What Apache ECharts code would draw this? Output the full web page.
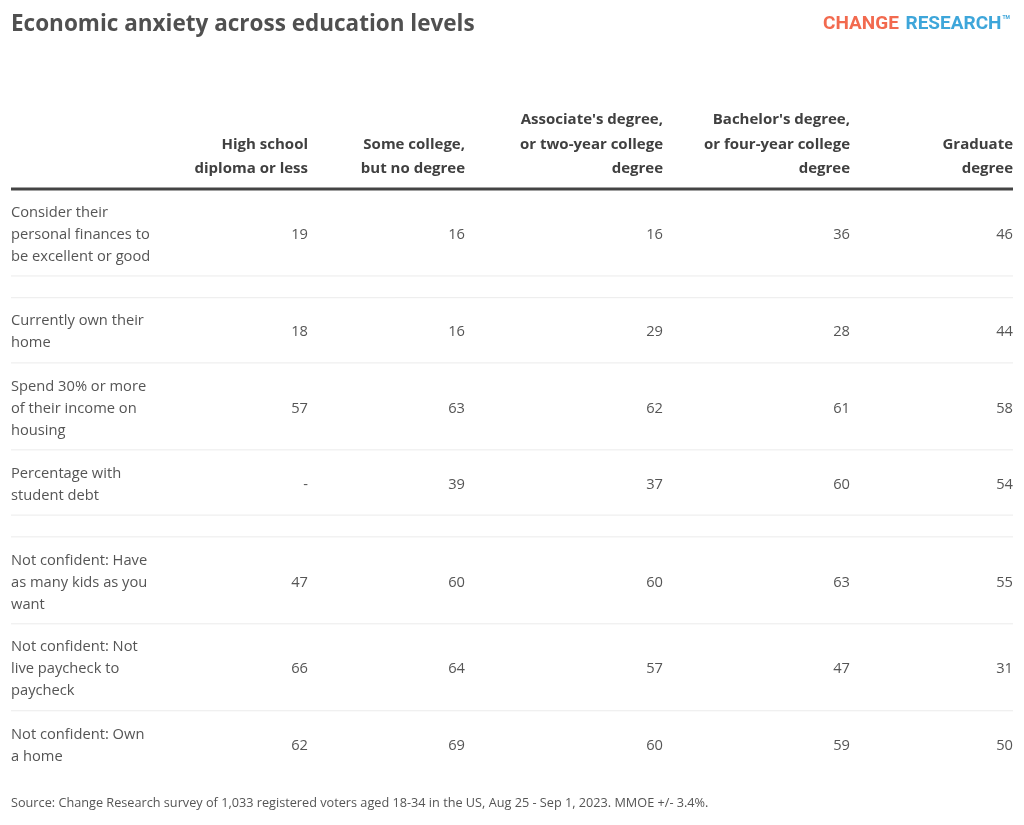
<!DOCTYPE html>
<html lang="en">
<head>
<meta charset="UTF-8">
<title>Economic anxiety across education levels</title>
<style>
  body { margin: 0; padding: 0; background: #fff; }
  #main { width: 1024px; height: 825px; }
</style>
</head>
<body>
<div id="main"></div>
<script src="https://cdn.jsdelivr.net/npm/echarts@6/dist/echarts.min.js"></script>
<script>
// column headers
var columns = [
  'High school\ndiploma or less',
  'Some college,\nbut no degree',
  "Associate's degree,\nor two-year college\ndegree",
  "Bachelor's degree,\nor four-year college\ndegree",
  'Graduate\ndegree'
];
// row questions
var rowLabels = [
  'Consider their\npersonal finances to\nbe excellent or good',
  'Currently own their\nhome',
  'Spend 30% or more\nof their income on\nhousing',
  'Percentage with\nstudent debt',
  'Not confident: Have\nas many kids as you\nwant',
  'Not confident: Not\nlive paycheck to\npaycheck',
  'Not confident: Own\na home'
];
// values per column (null = no data)
var highSchool  = [19, 18, 57, null, 47, 66, 62];
var someCollege = [16, 16, 63, 39, 60, 64, 69];
var associate   = [16, 29, 62, 37, 60, 57, 60];
var bachelor    = [36, 28, 61, 60, 63, 47, 59];
var graduate    = [46, 44, 58, 54, 55, 31, 50];
var values = [highSchool, someCollege, associate, bachelor, graduate];

// layout: right edge of each column (table px), empty spacer row after these rows
var colRight = [297, 454, 652, 839, 1002];
var gapAfter = [0, 3];
var tableWidth = 1002;

var FONT = '"Open Sans", Roboto, sans-serif';

// row positions in "line units": a row with n lines takes n+1 units
var rowCenter = [];
var separators = [];
var pos = 0;
rowLabels.forEach(function (lab, i) {
  var n = lab.split('\n').length;
  rowCenter.push(pos + (n + 1) / 2);
  pos += n + 1;
  if (i < rowLabels.length - 1) separators.push(pos);
  if (gapAfter.indexOf(i) >= 0) {
    pos += 1;
    separators.push(pos);
  }
});
var totalUnits = pos;

var cellData = [];
values.forEach(function (col, c) {
  col.forEach(function (v, r) {
    cellData.push([colRight[c], rowCenter[r], v == null ? '-' : String(v)]);
  });
});
var labelData = rowLabels.map(function (lab, r) { return [0, rowCenter[r], lab]; });
var headerData = columns.map(function (h, c) { return [colRight[c], 0, h]; });
var lineData = separators.map(function (s) { return [0, s]; });

var chart = echarts.init(document.getElementById('main'));

chart.setOption({
  animation: false,
  grid: { left: 11, right: 11, top: 189, bottom: 49 },
  xAxis: { type: 'value', min: 0, max: tableWidth, show: false },
  yAxis: { type: 'value', min: 0, max: totalUnits, inverse: true, show: false },
  graphic: [
    {
      type: 'text', left: 11, top: 13,
      style: { text: 'Economic anxiety across education levels', font: 'bold 22.5px ' + FONT, fill: '#505050' }
    },
    {
      type: 'text', right: 14, top: 15,
      style: {
        text: '{a|CHANGE}  {b|RESEARCH}{t|TM}',
        rich: {
          a: { font: 'bold 19px Roboto, sans-serif', fill: '#f26a4f' },
          b: { font: 'bold 19px Roboto, sans-serif', fill: '#3ea6da' },
          t: { font: 'bold 5px Roboto, sans-serif', fill: '#3ea6da', verticalAlign: 'top', padding: [0, 0, 13, 1] }
        }
      }
    },
    {
      type: 'text', left: 11, top: 797,
      style: {
        text: 'Source: Change Research survey of 1,033 registered voters aged 18-34 in the US, Aug 25 - Sep 1, 2023. MMOE +/- 3.4%.',
        font: '12.7px ' + FONT, fill: '#555'
      }
    }
  ],
  series: [
    {
      // header rule and row separators
      type: 'custom',
      data: [[0, 0, 'head']].concat(lineData),
      renderItem: function (params, api) {
        var p0 = api.coord([0, api.value(1)]);
        var p1 = api.coord([tableWidth, api.value(1)]);
        var head = params.dataIndex === 0;
        return {
          type: 'line',
          shape: { x1: p0[0], y1: p0[1], x2: p1[0], y2: p1[1] },
          style: { stroke: head ? '#444' : '#ebebeb', lineWidth: head ? 3 : 1 }
        };
      },
      silent: true
    },
    {
      // column headers
      type: 'custom',
      data: headerData,
      renderItem: function (params, api) {
        var p = api.coord([api.value(0), api.value(1)]);
        return {
          type: 'text', x: p[0], y: p[1] - 8,
          style: {
            text: headerData[params.dataIndex][2],
            font: 'bold 15px ' + FONT, fill: '#404040',
            align: 'right', verticalAlign: 'bottom', lineHeight: 24.5
          }
        };
      },
      silent: true
    },
    {
      // row labels
      type: 'custom',
      data: labelData,
      renderItem: function (params, api) {
        var p = api.coord([api.value(0), api.value(1)]);
        return {
          type: 'text', x: p[0], y: p[1] + 2,
          style: {
            text: labelData[params.dataIndex][2],
            font: '14.7px ' + FONT, fill: '#555',
            align: 'left', verticalAlign: 'middle', lineHeight: 22
          }
        };
      },
      silent: true
    },
    {
      // values
      type: 'custom',
      data: cellData,
      renderItem: function (params, api) {
        var p = api.coord([api.value(0), api.value(1)]);
        return {
          type: 'text', x: p[0], y: p[1] + 2,
          style: {
            text: cellData[params.dataIndex][2],
            font: '14.7px ' + FONT, fill: '#555',
            align: 'right', verticalAlign: 'middle'
          }
        };
      },
      silent: true
    }
  ]
});
</script>
</body>
</html>
